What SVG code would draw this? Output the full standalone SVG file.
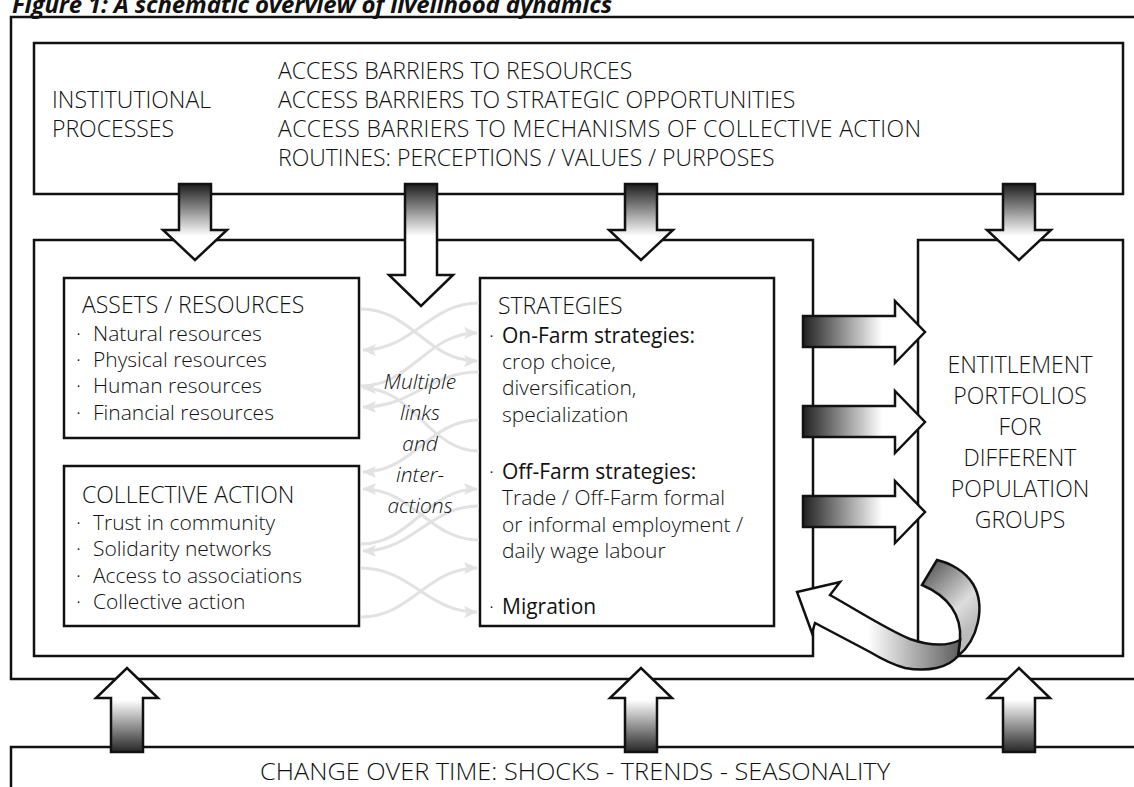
<svg xmlns="http://www.w3.org/2000/svg" width="1134" height="787" viewBox="0 0 1134 787">
<style>
.box{fill:#fff;stroke:#111;stroke-width:2.5}
.line{fill:none;stroke:#111;stroke-width:2.5}
.t{font-family:"Open Sans","Liberation Sans",sans-serif;font-size:23px;font-weight:300;fill:#111}
.s{font-size:21px}
.m{font-weight:500}
.it{font-style:italic;text-anchor:middle;font-size:21px}
.c{text-anchor:middle}
.arr{stroke:#111;stroke-width:2.5;stroke-linejoin:miter}
.link{fill:none;stroke:#e2e2e2;stroke-width:3}
</style>
<defs>
<linearGradient id="gDown" gradientUnits="userSpaceOnUse" x1="0" y1="186" x2="0" y2="236">
<stop offset="0" stop-color="#262626"/><stop offset="1" stop-color="#ffffff"/>
</linearGradient>
<linearGradient id="gUp" gradientUnits="userSpaceOnUse" x1="0" y1="752" x2="0" y2="700">
<stop offset="0" stop-color="#262626"/><stop offset="1" stop-color="#ffffff"/>
</linearGradient>
<linearGradient id="gRight" gradientUnits="userSpaceOnUse" x1="805" y1="0" x2="882" y2="0">
<stop offset="0" stop-color="#262626"/><stop offset="1" stop-color="#ffffff"/>
</linearGradient>
<linearGradient id="gFront" gradientUnits="userSpaceOnUse" x1="868" y1="0" x2="962" y2="0">
<stop offset="0" stop-color="#ffffff"/><stop offset="1" stop-color="#5a5a5a"/>
</linearGradient>
<linearGradient id="gRibbon" gradientUnits="userSpaceOnUse" x1="925" y1="565" x2="978" y2="620">
<stop offset="0" stop-color="#555"/><stop offset="0.7" stop-color="#ddd"/><stop offset="1" stop-color="#bbb"/>
</linearGradient>
<marker id="ah" markerUnits="userSpaceOnUse" markerWidth="16" markerHeight="12" refX="13" refY="6" orient="auto">
<path d="M0,0 L14,6 L0,12 L3,6 Z" fill="#e2e2e2"/>
</marker>
</defs>
<rect width="1134" height="787" fill="#fff"/>

<g id="frame">
<path class="line" d="M1140,17 H11 V679 H1140"/>
</g>
<g id="title">
<text class="t" x="12" y="13" textLength="600" style="font-size:24px;font-weight:700;font-style:italic">Figure 1: A schematic overview of livelihood dynamics</text>
</g>

<g id="institutional">
<rect class="box" x="34" y="43" width="1089" height="151"/>
<text class="t" x="52" y="108">INSTITUTIONAL</text>
<text class="t" x="52" y="137">PROCESSES</text>
<text class="t" x="278" y="79">ACCESS BARRIERS TO RESOURCES</text>
<text class="t" x="278" y="108">ACCESS BARRIERS TO STRATEGIC OPPORTUNITIES</text>
<text class="t" x="278" y="137" textLength="643">ACCESS BARRIERS TO MECHANISMS OF COLLECTIVE ACTION</text>
<text class="t" x="278" y="166">ROUTINES: PERCEPTIONS / VALUES / PURPOSES</text>
</g>

<g id="livelihood">
<rect class="box" x="34" y="240" width="779" height="416"/>
</g>

<g id="entitlement">
<rect class="box" x="918" y="240" width="205" height="416"/>
<text class="t c" x="1020" y="373">ENTITLEMENT</text>
<text class="t c" x="1020" y="404">PORTFOLIOS</text>
<text class="t c" x="1020" y="435">FOR</text>
<text class="t c" x="1020" y="466">DIFFERENT</text>
<text class="t c" x="1020" y="497">POPULATION</text>
<text class="t c" x="1020" y="528">GROUPS</text>
</g>

<g id="change">
<path class="line" d="M1140,747 H11 V800"/>
<text class="t" x="260" y="780" textLength="630" lengthAdjust="spacingAndGlyphs" style="font-size:24px">CHANGE OVER TIME: SHOCKS - TRENDS - SEASONALITY</text>
</g>

<g id="assets">
<rect class="box" x="64" y="278" width="295" height="160"/>
<text class="t" x="82" y="313">ASSETS / RESOURCES</text>
<text class="t s" x="76" y="341">·</text><text class="t s" x="93" y="341">Natural resources</text>
<text class="t s" x="76" y="367">·</text><text class="t s" x="93" y="367">Physical resources</text>
<text class="t s" x="76" y="393">·</text><text class="t s" x="93" y="393">Human resources</text>
<text class="t s" x="76" y="420">·</text><text class="t s" x="93" y="420">Financial resources</text>
</g>

<g id="collective">
<rect class="box" x="64" y="466" width="295" height="160"/>
<text class="t" x="82" y="503">COLLECTIVE ACTION</text>
<text class="t s" x="76" y="530">·</text><text class="t s" x="93" y="530">Trust in community</text>
<text class="t s" x="76" y="556">·</text><text class="t s" x="93" y="556">Solidarity networks</text>
<text class="t s" x="76" y="583">·</text><text class="t s" x="93" y="583">Access to associations</text>
<text class="t s" x="76" y="609">·</text><text class="t s" x="93" y="609">Collective action</text>
</g>

<g id="strategies">
<rect class="box" x="480" y="278" width="294" height="348"/>
<text class="t" x="498" y="314">STRATEGIES</text>
<text class="t s" x="489" y="343">·</text><text class="t s m" x="502" y="343">On-Farm strategies:</text>
<text class="t s" x="502" y="369">crop choice,</text>
<text class="t s" x="502" y="395">diversification,</text>
<text class="t s" x="502" y="422">specialization</text>
<text class="t s" x="489" y="479">·</text><text class="t s m" x="502" y="479">Off-Farm strategies:</text>
<text class="t s" x="502" y="505">Trade / Off-Farm formal</text>
<text class="t s" x="502" y="532">or informal employment /</text>
<text class="t s" x="502" y="558">daily wage labour</text>
<text class="t s" x="489" y="614">·</text><text class="t s m" x="502" y="614">Migration</text>
</g>

<g id="connectors">
<path class="link" marker-end="url(#ah)" d="M361,309 C411,309 427,361 477,361"/>
<path class="link" marker-end="url(#ah)" d="M361,386 C411,386 427,333 477,333"/>
<path class="link" marker-end="url(#ah)" d="M479,303 C429,303 413,350 363,350"/>
<path class="link" marker-end="url(#ah)" d="M479,451 C429,451 413,388 363,388"/>
<path class="link" marker-end="url(#ah)" d="M479,372 C429,372 413,407 363,407"/>
<path class="link" marker-end="url(#ah)" d="M479,420 C429,420 413,472 363,472"/>
<path class="link" marker-end="url(#ah)" d="M361,544 C411,544 427,489 477,489"/>
<path class="link" marker-end="url(#ah)" d="M479,540 C429,540 413,489 363,489"/>
<path class="link" marker-end="url(#ah)" d="M479,506 C429,506 413,551 363,551"/>
<path class="link" marker-end="url(#ah)" d="M361,617 C411,617 427,568 477,568"/>
<path class="link" marker-end="url(#ah)" d="M361,568 C411,568 427,612 477,612"/>
</g>

<g id="links-label">
<text class="t it" x="420" y="389">Multiple</text>
<text class="t it" x="420" y="420">links</text>
<text class="t it" x="420" y="451">and</text>
<text class="t it" x="420" y="482">inter-</text>
<text class="t it" x="420" y="513">actions</text>
</g>

<g id="arrows">
<polygon class="arr" fill="url(#gDown)" points="179,184 211,184 211,230 227,230 195,260 163,230 179,230"/>
<polygon class="arr" fill="url(#gDown)" points="405,184 437,184 437,275 453,275 421,306 389,275 405,275"/>
<polygon class="arr" fill="url(#gDown)" points="625,184 657,184 657,230 673,230 641,260 609,230 625,230"/>
<polygon class="arr" fill="url(#gDown)" points="1003,184 1035,184 1035,230 1051,230 1019,260 987,230 1003,230"/>
<polygon class="arr" fill="url(#gUp)" points="111,752 143,752 143,698 158,698 127,668 96,698 111,698"/>
<polygon class="arr" fill="url(#gUp)" points="625,752 657,752 657,698 672,698 641,668 610,698 625,698"/>
<polygon class="arr" fill="url(#gUp)" points="1003,752 1035,752 1035,698 1050,698 1019,668 988,698 1003,698"/>
<polygon class="arr" fill="url(#gRight)" points="803,316 895,316 895,301 925,332 895,363 895,347 803,347"/>
<polygon class="arr" fill="url(#gRight)" points="803,406 895,406 895,391 925,422 895,453 895,437 803,437"/>
<polygon class="arr" fill="url(#gRight)" points="803,496 895,496 895,481 925,512 895,543 895,527 803,527"/>
</g>

<g id="feedback">
<path class="arr" fill="url(#gRibbon)" d="M922,585 C948,596 962,615 960,640 L958,656 C978,640 986,606 973,584 C965,571 950,563 937,560 Z"/>
<path class="arr" fill="url(#gFront)" d="M797,592 L840,582 L830,595 C860,612 888,630 910,639 C930,646 948,646 960,640 L958,656 C948,668 928,672 905,668 C890,664 880,658 870,652 L815,623 L812,633 Z"/>
</g>
</svg>
